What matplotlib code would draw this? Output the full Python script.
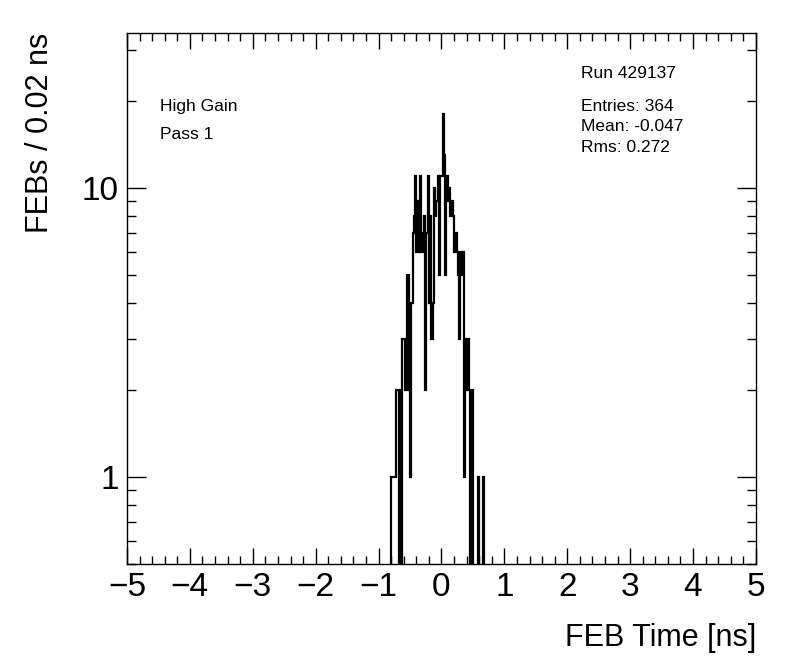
import numpy as np
import matplotlib
matplotlib.use("Agg")
import matplotlib.pyplot as plt
import matplotlib.ticker as mticker

plt.rcParams['font.family'] = ['Liberation Sans', 'DejaVu Sans']

# histogram: 0.02 ns bins starting at -0.80 ns
bin_lo = -0.80
bin_w = 0.02
counts = [1, 1, 1, 1, 2, 2, 0, 2, 0, 3,
          3, 2, 2, 5, 2, 1, 4, 7, 8, 11,
          6, 9, 6, 11, 6, 7, 8, 2, 7, 11,
          4, 8, 3, 4, 10, 8, 9, 11, 5, 11,
          11, 18, 13, 5, 11, 9, 10, 8, 9, 8,
          6, 7, 6, 5, 3, 6, 5, 6, 1, 3,
          2, 3, 2, 0, 2, 0, 0, 0, 0, 1,
          0, 0, 0, 1, 0]

run_text = "Run 429137"
stats = ["Entries: 364", "Mean: -0.047", "Rms: 0.272"]
tags = ["High Gain", "Pass 1"]

counts = np.array(counts, dtype=float)
edges = bin_lo + bin_w * np.arange(len(counts) + 1)
draw = np.where(counts > 0, counts, 1e-3)

fig = plt.figure(figsize=(7.96, 6.72), dpi=100)
ax = fig.add_axes([0.1595, 0.1607, 0.7902, 0.7902])

ax.stairs(draw, edges, baseline=1e-3, color='black', lw=1.6)

ax.set_yscale('log')
ax.set_xlim(-5, 5)
ax.set_ylim(0.5, 34.4)

ax.xaxis.set_major_locator(mticker.MultipleLocator(1))
ax.xaxis.set_minor_locator(mticker.MultipleLocator(0.2))
ax.yaxis.set_major_locator(mticker.FixedLocator([1, 10]))
ax.yaxis.set_major_formatter(mticker.FixedFormatter(['1', '10']))
ax.yaxis.set_minor_locator(mticker.LogLocator(base=10, subs=np.arange(2, 10)))
ax.yaxis.set_minor_formatter(mticker.NullFormatter())

ax.tick_params(which='both', direction='in', top=True, right=True, width=1.0)
ax.tick_params(axis='x', which='major', length=11.5, labelsize=24, pad=6)
ax.tick_params(axis='x', which='minor', length=6)
ax.tick_params(axis='y', which='major', length=13.5, labelsize=24, pad=6)
ax.tick_params(axis='y', which='minor', length=6.5)
for s in ax.spines.values():
    s.set_linewidth(1.0)

fig.text(0.9497, 0.0506, "FEB Time [ns]", ha='right', va='center', fontsize=22)
fig.text(0.05, 0.951, "FEBs / 0.02 ns", ha='center', va='top', rotation=90, fontsize=22)

ax.text(0.0525, 0.861, tags[0], transform=ax.transAxes, ha='left', va='center', fontsize=12.5)
ax.text(0.0525, 0.808, tags[1], transform=ax.transAxes, ha='left', va='center', fontsize=12.5)
ax.text(0.722, 0.923, run_text, transform=ax.transAxes, ha='left', va='center', fontsize=12.5)
for i, s in enumerate(stats):
    ax.text(0.722, 0.861 - 0.038 * i, s, transform=ax.transAxes, ha='left', va='center', fontsize=12.5)

fig.savefig("out.png", dpi=100)
